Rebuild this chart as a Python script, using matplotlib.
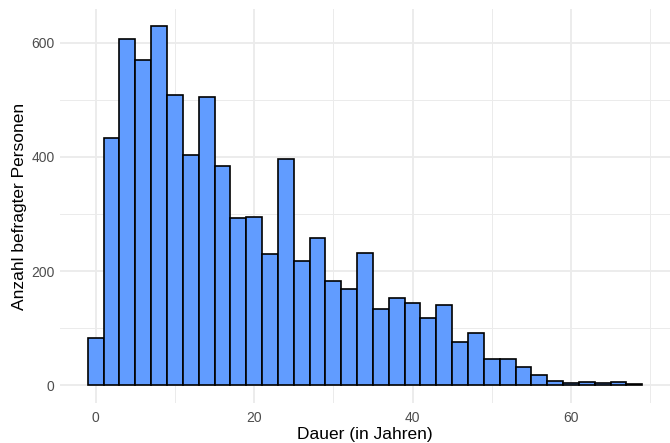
import matplotlib
matplotlib.use("Agg")
import matplotlib.pyplot as plt
import numpy as np

# Bin centres (years) and counts
bin_centers = [0, 2, 4, 6, 8, 10, 12, 14, 16, 18, 20, 22, 24, 26, 28, 30, 32, 34,
               36, 38, 40, 42, 44, 46, 48, 50, 52, 54, 56, 58, 60, 62, 64, 66, 68]
counts = [82, 433, 607, 570, 629, 508, 404, 505, 385, 293, 295, 229, 396, 218, 258,
          183, 168, 231, 134, 152, 144, 117, 141, 75, 92, 45, 45, 32, 17, 8, 3, 5, 4, 6, 2]
bin_width = 2

x_ticks = [0, 20, 40, 60]
y_ticks = [0, 200, 400, 600]
x_label = "Dauer (in Jahren)"
y_label = "Anzahl befragter Personen"

plt.rcParams['font.family'] = ['Liberation Sans', 'DejaVu Sans']

fig = plt.figure(figsize=(6.7, 4.43), dpi=100)
ax = fig.add_axes([0.0896, 0.0903, 0.9104, 0.8894])

ax.bar(bin_centers, counts, width=bin_width, color="#619CFF", edgecolor="black",
       linewidth=1.2, zorder=3)

ax.set_xlim(-4.5, 72.5)
ax.set_ylim(-31.4, 659.5)

ax.set_xticks(x_ticks)
ax.set_yticks(y_ticks)
ax.set_xticks([10, 30, 50, 70], minor=True)
ax.set_yticks([100, 300, 500], minor=True)

ax.grid(which="major", color="#EBEBEB", linewidth=1.3, zorder=0)
ax.grid(which="minor", color="#EBEBEB", linewidth=0.7, zorder=0)
for s in ax.spines.values():
    s.set_visible(False)
ax.tick_params(which="both", length=0)
ax.tick_params(axis="both", labelsize=10, labelcolor="#4D4D4D")
ax.tick_params(axis="x", pad=6)
ax.tick_params(axis="y", pad=4)

ax.set_xlabel(x_label, fontsize=12.5, color="black", labelpad=1)
ax.set_ylabel(y_label, fontsize=12.5, color="black", labelpad=3)

fig.savefig("out.png", dpi=100)
